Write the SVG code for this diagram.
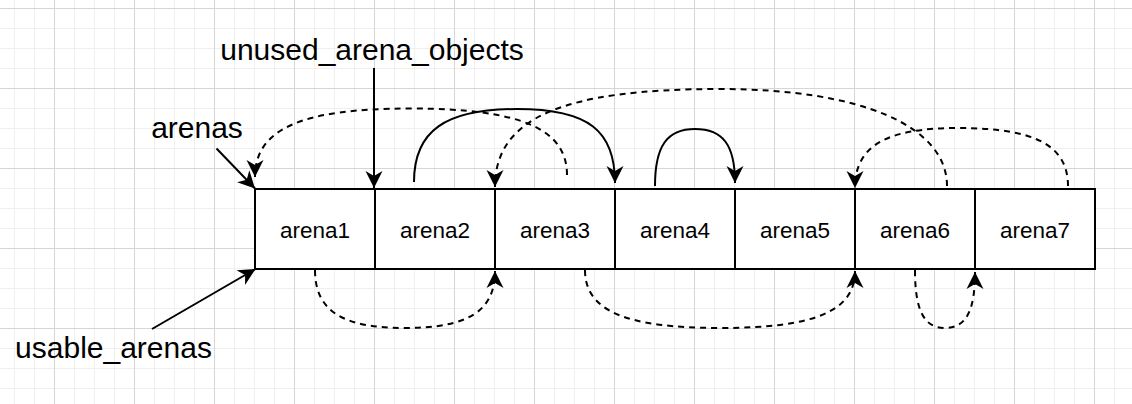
<svg xmlns="http://www.w3.org/2000/svg" width="1132" height="404" viewBox="0 0 1132 404">
<style>
.cell{fill:#fff;stroke:#000;stroke-width:2}
.lbl{font-family:"Liberation Sans",Arial,Helvetica,sans-serif;fill:#000}
.ct{font-size:22.5px;text-anchor:middle}
.big{font-size:30px;text-anchor:middle}
.e{fill:none;stroke:#000;stroke-width:2;marker-end:url(#ah)}
.d{stroke-dasharray:6 5}
</style>
<defs>
<pattern id="gmin" width="20" height="20" x="14" y="8" patternUnits="userSpaceOnUse"><path d="M0,0.5H20M0.5,0V20" stroke="#efefef" stroke-width="1" fill="none"/></pattern>
<pattern id="gmaj" width="80" height="80" x="54" y="8" patternUnits="userSpaceOnUse"><path d="M0,0.5H80M0.5,0V80" stroke="#d6d6d6" stroke-width="1" fill="none"/></pattern>
<marker id="ah" viewBox="-18 -9 19 18" refX="0" refY="0" markerWidth="19" markerHeight="18" markerUnits="userSpaceOnUse" orient="auto"><path d="M0,0L-17,-8.5L-12,0L-17,8.5Z" fill="#000"/></marker>
</defs>
<rect width="1132" height="404" fill="#fff"/>
<rect width="1132" height="404" fill="url(#gmin)"/>
<rect width="1132" height="404" fill="url(#gmaj)"/>

<g id="arena1"><rect class="cell" x="255" y="189" width="120" height="80"/><text class="lbl ct" x="315" y="238">arena1</text></g>
<g id="arena2"><rect class="cell" x="375" y="189" width="120" height="80"/><text class="lbl ct" x="435" y="238">arena2</text></g>
<g id="arena3"><rect class="cell" x="495" y="189" width="120" height="80"/><text class="lbl ct" x="555" y="238">arena3</text></g>
<g id="arena4"><rect class="cell" x="615" y="189" width="120" height="80"/><text class="lbl ct" x="675" y="238">arena4</text></g>
<g id="arena5"><rect class="cell" x="735" y="189" width="120" height="80"/><text class="lbl ct" x="795" y="238">arena5</text></g>
<g id="arena6"><rect class="cell" x="855" y="189" width="120" height="80"/><text class="lbl ct" x="915" y="238">arena6</text></g>
<g id="arena7"><rect class="cell" x="975" y="189" width="120" height="80"/><text class="lbl ct" x="1035" y="238">arena7</text></g>

<g id="label-unused"><text class="lbl big" x="372" y="60">unused_arena_objects</text></g>
<g id="label-arenas"><text class="lbl big" x="197" y="138">arenas</text></g>
<g id="label-usable"><text class="lbl big" x="113.5" y="358">usable_arenas</text></g>

<g id="connectors">
<path class="e" d="M374,68V188"/>
<path class="e" d="M216.5,148.5L255,188.5"/>
<path class="e" d="M152,329L255.5,269"/>
<path class="e d" d="M567,175C567,128.5 520,108.5 410,108.5C301.5,108.5 255,129 255,177"/>
<path class="e" d="M414,182C414,131 445,109 517,109C589,109 615,131 615,183"/>
<path class="e" d="M655,186C655,146 667,129 695,129C723,129 735,145 735,183"/>
<path class="e d" d="M947,186C947,126 861,89 720,89C562.5,89 495,118 495,187"/>
<path class="e d" d="M1068,186C1068,145.4 1035,128 958,128C886,128 855,146 855,188"/>
<path class="e d" d="M315,270C315,310.6 342,328 405,328C468,328 495,311.2 495,271"/>
<path class="e d" d="M585,270C585,310.6 625.5,328 720,328C814.5,328 855,311.2 855,271"/>
<path class="e d" d="M915,270C915,310.6 924,328 945,328C966,328 975,311.2 975,272"/>
</g>
</svg>
